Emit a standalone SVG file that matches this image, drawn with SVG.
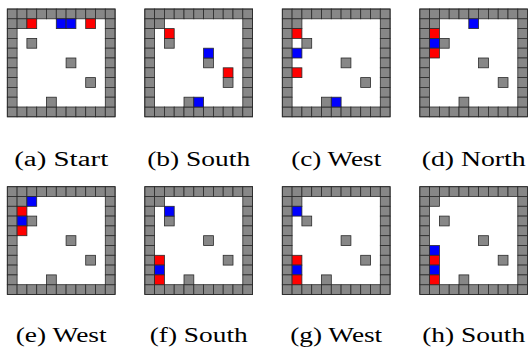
<svg xmlns="http://www.w3.org/2000/svg" xmlns:xlink="http://www.w3.org/1999/xlink" width="529" height="347" viewBox="0 0 529 347">
<style>
.w{fill:#878787;stroke:#2a2a2a;stroke-width:0.8}
.r{fill:#ff0000;stroke:#2a2a2a;stroke-width:0.8}
.b{fill:#0000ff;stroke:#2a2a2a;stroke-width:0.8}
.lbl{font-family:"Liberation Serif","Times New Roman",serif;font-size:20.5px;fill:#000;text-anchor:middle}
</style>
<defs>
<g id="board">
<rect x="0" y="0" width="107.8" height="107.8" fill="#fff"/>
<rect class="w" x="0" y="0" width="9.8" height="9.8"/><rect class="w" x="9.8" y="0" width="9.8" height="9.8"/><rect class="w" x="19.6" y="0" width="9.8" height="9.8"/><rect class="w" x="29.4" y="0" width="9.8" height="9.8"/><rect class="w" x="39.2" y="0" width="9.8" height="9.8"/><rect class="w" x="49" y="0" width="9.8" height="9.8"/><rect class="w" x="58.8" y="0" width="9.8" height="9.8"/><rect class="w" x="68.6" y="0" width="9.8" height="9.8"/><rect class="w" x="78.4" y="0" width="9.8" height="9.8"/><rect class="w" x="88.2" y="0" width="9.8" height="9.8"/><rect class="w" x="98" y="0" width="9.8" height="9.8"/>
<rect class="w" x="0" y="98" width="9.8" height="9.8"/><rect class="w" x="9.8" y="98" width="9.8" height="9.8"/><rect class="w" x="19.6" y="98" width="9.8" height="9.8"/><rect class="w" x="29.4" y="98" width="9.8" height="9.8"/><rect class="w" x="39.2" y="98" width="9.8" height="9.8"/><rect class="w" x="49" y="98" width="9.8" height="9.8"/><rect class="w" x="58.8" y="98" width="9.8" height="9.8"/><rect class="w" x="68.6" y="98" width="9.8" height="9.8"/><rect class="w" x="78.4" y="98" width="9.8" height="9.8"/><rect class="w" x="88.2" y="98" width="9.8" height="9.8"/><rect class="w" x="98" y="98" width="9.8" height="9.8"/>
<rect class="w" x="0" y="9.8" width="9.8" height="9.8"/><rect class="w" x="0" y="19.6" width="9.8" height="9.8"/><rect class="w" x="0" y="29.4" width="9.8" height="9.8"/><rect class="w" x="0" y="39.2" width="9.8" height="9.8"/><rect class="w" x="0" y="49" width="9.8" height="9.8"/><rect class="w" x="0" y="58.8" width="9.8" height="9.8"/><rect class="w" x="0" y="68.6" width="9.8" height="9.8"/><rect class="w" x="0" y="78.4" width="9.8" height="9.8"/><rect class="w" x="0" y="88.2" width="9.8" height="9.8"/>
<rect class="w" x="98" y="9.8" width="9.8" height="9.8"/><rect class="w" x="98" y="19.6" width="9.8" height="9.8"/><rect class="w" x="98" y="29.4" width="9.8" height="9.8"/><rect class="w" x="98" y="39.2" width="9.8" height="9.8"/><rect class="w" x="98" y="49" width="9.8" height="9.8"/><rect class="w" x="98" y="58.8" width="9.8" height="9.8"/><rect class="w" x="98" y="68.6" width="9.8" height="9.8"/><rect class="w" x="98" y="78.4" width="9.8" height="9.8"/><rect class="w" x="98" y="88.2" width="9.8" height="9.8"/>
<rect class="w" x="9.8" y="9.8" width="9.8" height="9.8"/>
<rect class="w" x="19.6" y="29.4" width="9.8" height="9.8"/>
<rect class="w" x="58.8" y="49" width="9.8" height="9.8"/>
<rect class="w" x="78.4" y="68.6" width="9.8" height="9.8"/>
<rect class="w" x="39.2" y="88.2" width="9.8" height="9.8"/>
<rect x="0" y="0" width="107.8" height="107.8" fill="none" stroke="#2a2a2a" stroke-width="0.8"/>
</g>
</defs>
<g id="connectors"/>
<g id="panel-a" transform="translate(7.3,9)">
<use xlink:href="#board" href="#board"/>
<rect class="r" x="19.6" y="9.8" width="9.8" height="9.8"/><rect class="b" x="49" y="9.8" width="9.8" height="9.8"/><rect class="b" x="58.8" y="9.8" width="9.8" height="9.8"/><rect class="r" x="78.4" y="9.8" width="9.8" height="9.8"/>
<text class="lbl" x="53.9" y="156.8" textLength="94" lengthAdjust="spacingAndGlyphs">(a) Start</text>
</g>
<g id="panel-b" transform="translate(144.8,9)">
<use xlink:href="#board" href="#board"/>
<rect class="r" x="19.6" y="19.6" width="9.8" height="9.8"/><rect class="b" x="58.8" y="39.2" width="9.8" height="9.8"/><rect class="r" x="78.4" y="58.8" width="9.8" height="9.8"/><rect class="b" x="49" y="88.2" width="9.8" height="9.8"/>
<text class="lbl" x="53.9" y="156.8" textLength="103" lengthAdjust="spacingAndGlyphs">(b) South</text>
</g>
<g id="panel-c" transform="translate(282.3,9)">
<use xlink:href="#board" href="#board"/>
<rect class="r" x="9.8" y="19.6" width="9.8" height="9.8"/><rect class="b" x="9.8" y="39.2" width="9.8" height="9.8"/><rect class="r" x="9.8" y="58.8" width="9.8" height="9.8"/><rect class="b" x="49" y="88.2" width="9.8" height="9.8"/>
<text class="lbl" x="53.9" y="156.8" textLength="90" lengthAdjust="spacingAndGlyphs">(c) West</text>
</g>
<g id="panel-d" transform="translate(419.8,9)">
<use xlink:href="#board" href="#board"/>
<rect class="b" x="49" y="9.8" width="9.8" height="9.8"/><rect class="r" x="9.8" y="19.6" width="9.8" height="9.8"/><rect class="b" x="9.8" y="29.4" width="9.8" height="9.8"/><rect class="r" x="9.8" y="39.2" width="9.8" height="9.8"/>
<text class="lbl" x="53.9" y="156.8" textLength="104" lengthAdjust="spacingAndGlyphs">(d) North</text>
</g>
<g id="panel-e" transform="translate(7.3,186.7)">
<use xlink:href="#board" href="#board"/>
<rect class="b" x="19.6" y="9.8" width="9.8" height="9.8"/><rect class="r" x="9.8" y="19.6" width="9.8" height="9.8"/><rect class="b" x="9.8" y="29.4" width="9.8" height="9.8"/><rect class="r" x="9.8" y="39.2" width="9.8" height="9.8"/>
<text class="lbl" x="53.9" y="155.4" textLength="91" lengthAdjust="spacingAndGlyphs">(e) West</text>
</g>
<g id="panel-f" transform="translate(144.8,186.7)">
<use xlink:href="#board" href="#board"/>
<rect class="b" x="19.6" y="19.6" width="9.8" height="9.8"/><rect class="r" x="9.8" y="68.6" width="9.8" height="9.8"/><rect class="b" x="9.8" y="78.4" width="9.8" height="9.8"/><rect class="r" x="9.8" y="88.2" width="9.8" height="9.8"/>
<text class="lbl" x="53.9" y="155.4" textLength="98" lengthAdjust="spacingAndGlyphs">(f) South</text>
</g>
<g id="panel-g" transform="translate(282.3,186.7)">
<use xlink:href="#board" href="#board"/>
<rect class="b" x="9.8" y="19.6" width="9.8" height="9.8"/><rect class="r" x="9.8" y="68.6" width="9.8" height="9.8"/><rect class="b" x="9.8" y="78.4" width="9.8" height="9.8"/><rect class="r" x="9.8" y="88.2" width="9.8" height="9.8"/>
<text class="lbl" x="53.9" y="155.4" textLength="92" lengthAdjust="spacingAndGlyphs">(g) West</text>
</g>
<g id="panel-h" transform="translate(419.8,186.7)">
<use xlink:href="#board" href="#board"/>
<rect class="b" x="9.8" y="58.8" width="9.8" height="9.8"/><rect class="r" x="9.8" y="68.6" width="9.8" height="9.8"/><rect class="b" x="9.8" y="78.4" width="9.8" height="9.8"/><rect class="r" x="9.8" y="88.2" width="9.8" height="9.8"/>
<text class="lbl" x="53.9" y="155.4" textLength="103" lengthAdjust="spacingAndGlyphs">(h) South</text>
</g>
</svg>
